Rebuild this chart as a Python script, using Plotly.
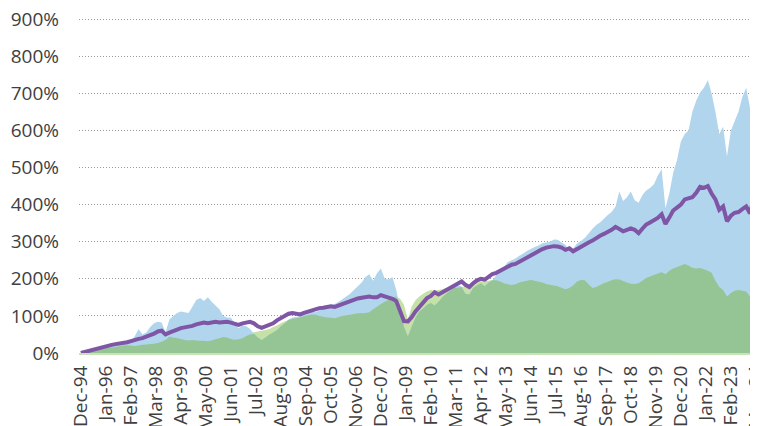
import pandas as pd
import plotly.graph_objects as go

# Bi-monthly observations starting Dec-94 (cumulative return, %)
START = "1994-12-01"

PURPLE = [
    0, 3, 6, 9, 12, 15, 18, 20, 22, 24, 25, 27,
    29, 32, 36, 38, 40, 45, 48, 52, 58, 60, 50, 55,
    60, 65, 67, 69, 70, 73, 77, 80, 82, 80, 82, 84,
    82, 84, 84, 82, 80, 76, 80, 82, 84, 80, 72, 68,
    72, 76, 80, 88, 94, 100, 106, 108, 106, 104, 108, 111,
    115, 119, 121, 122, 125, 126, 124, 128, 133, 138, 140, 144,
    147, 149, 150, 152, 150, 150, 156, 153, 149, 146, 140, 112,
    86, 85, 96, 112, 125, 138, 148, 154, 164, 158, 164, 172,
    178, 184, 188, 193, 184, 178, 188, 196, 200, 198, 205, 213,
    216, 222, 227, 234, 238, 240, 246, 252, 258, 262, 268, 276,
    280, 284, 287, 288, 287, 284, 278, 282, 274, 280, 288, 294,
    298, 303, 310, 316, 321, 326, 332, 340, 335, 328, 332, 336,
    332, 323, 335, 346, 352, 358, 364, 374, 348, 365, 384, 392,
    400, 414, 416, 420, 432, 448, 445, 450, 430, 414, 386, 395,
    355, 370, 378, 380, 388, 395, 376, 420, 432,
]

GREEN = [
    0, 2, 4, 6, 8, 10, 12, 14, 15, 16, 18, 20,
    21, 20, 19, 20, 22, 23, 24, 25, 27, 30, 35, 44,
    42, 40, 38, 35, 34, 35, 34, 33, 33, 32, 34, 37,
    40, 43, 42, 38, 36, 37, 40, 46, 50, 56, 58, 60,
    62, 65, 70, 74, 80, 85, 89, 92, 94, 96, 100, 102,
    104, 103, 100, 98, 96, 95, 94, 97, 100, 102, 103, 105,
    107, 107, 108, 110, 118, 125, 132, 138, 143, 148, 152, 146,
    130, 90, 125, 142, 152, 160, 166, 170, 168, 170, 172, 176,
    176, 178, 176, 178, 180, 182, 186, 190, 193, 195, 195, 197,
    196, 193, 188, 185, 183, 185, 190, 193, 195, 197, 195, 192,
    190, 186, 184, 182, 180, 176, 172, 175, 182, 193, 197, 196,
    185, 175, 178, 183, 188, 192, 196, 199, 198, 194, 190, 187,
    186, 188, 195, 202, 206, 210, 214, 218, 212, 222, 228, 232,
    236, 240, 236, 230, 228, 229, 226, 222, 216, 195, 178, 170,
    152, 162, 168, 170, 168, 166, 152, 165, 175,
]

BLUE = [
    0, 2, 5, 8, 11, 13, 16, 18, 20, 22, 23, 25,
    27, 30, 45, 65, 50, 55, 70, 80, 84, 82, 55, 90,
    100, 108, 112, 110, 108, 125, 143, 148, 140, 150, 138, 128,
    118, 100, 96, 95, 80, 67, 75, 72, 65, 52, 42, 35,
    42, 50, 55, 62, 72, 80, 90, 96, 97, 100, 106, 108,
    112, 110, 115, 120, 125, 130, 132, 138, 145, 152, 160, 170,
    180, 190, 205, 212, 195, 215, 228, 200, 198, 205, 170, 120,
    70, 45, 70, 95, 112, 120, 130, 135, 128, 138, 150, 160,
    168, 176, 182, 180, 160, 158, 175, 182, 188, 180, 190, 196,
    210, 222, 232, 245, 250, 255, 262, 268, 275, 280, 286, 290,
    296, 298, 300, 306, 305, 298, 292, 275, 282, 295, 302, 310,
    322, 335, 345, 352, 362, 372, 380, 395, 435, 410, 420, 435,
    412, 405, 425, 438, 445, 455, 478, 495, 390, 430, 485, 520,
    570, 590, 600, 650, 680, 702, 715, 735, 700, 650, 590, 610,
    530, 600, 625, 650, 690, 715, 660, 730, 760,
]

TICK_LABELS = [
    "Dec-94", "Jan-96", "Feb-97", "Mar-98", "Apr-99", "May-00", "Jun-01",
    "Jul-02", "Aug-03", "Sep-04", "Oct-05", "Nov-06", "Dec-07", "Jan-09",
    "Feb-10", "Mar-11", "Apr-12", "May-13", "Jun-14", "Jul-15", "Aug-16",
    "Sep-17", "Oct-18", "Nov-19", "Dec-20", "Jan-22", "Feb-23", "Mar-24",
]
Y_TICKS = [0, 100, 200, 300, 400, 500, 600, 700, 800, 900]
Y_TICK_LABELS = ["0%", "100%", "200%", "300%", "400%", "500%",
                 "600%", "700%", "800%", "900%"]

dates = pd.date_range(START, periods=len(PURPLE), freq="2MS")
tick_dates = pd.date_range(START, periods=len(TICK_LABELS), freq="13MS")
overlap = [min(b, g) for b, g in zip(BLUE, GREEN)]

C_BLUE = "#b1d5ed"
C_GREEN = "#95c594"
C_LIGHTGREEN = "#c6e1a7"
C_PURPLE = "#7f55a5"

fig = go.Figure()
fig.add_trace(go.Scatter(x=dates, y=GREEN, mode="none", fill="tozeroy",
                         fillcolor=C_LIGHTGREEN, hoverinfo="skip"))
fig.add_trace(go.Scatter(x=dates, y=BLUE, mode="none", fill="tozeroy",
                         fillcolor=C_BLUE, hoverinfo="skip"))
fig.add_trace(go.Scatter(x=dates, y=overlap, mode="none", fill="tozeroy",
                         fillcolor=C_GREEN, hoverinfo="skip"))
fig.add_trace(go.Scatter(x=dates, y=PURPLE, mode="lines",
                         line=dict(color=C_PURPLE, width=4)))

# page body has an 8px default margin, so the figure is sized/placed to compensate
fig.update_layout(
    template="none",
    width=750, height=418,
    margin=dict(l=71, r=0, t=10, b=73, autoexpand=False),
    paper_bgcolor="white", plot_bgcolor="white",
    showlegend=False,
    font=dict(family="Open Sans", size=19, color="#404040"),
)
fig.update_xaxes(
    type="date",
    range=["1994-11-01", "2024-04-05"],
    tickvals=tick_dates, ticktext=TICK_LABELS,
    tickangle=-90, showgrid=False, zeroline=False,
    showline=True, linecolor="#c9e3b6", linewidth=2,
    ticks="", automargin=False, ticklabelstandoff=3,
    ticklabeloverflow="allow",
)
fig.update_yaxes(
    range=[0, 903], tickvals=Y_TICKS, ticktext=Y_TICK_LABELS,
    showgrid=True, gridcolor="#9a9a9a", griddash="1px,2px", gridwidth=1,
    zeroline=False, showline=False, ticks="", automargin=False,
    ticklabelstandoff=19, ticklabeloverflow="allow",
)

fig.write_html("out.html")
